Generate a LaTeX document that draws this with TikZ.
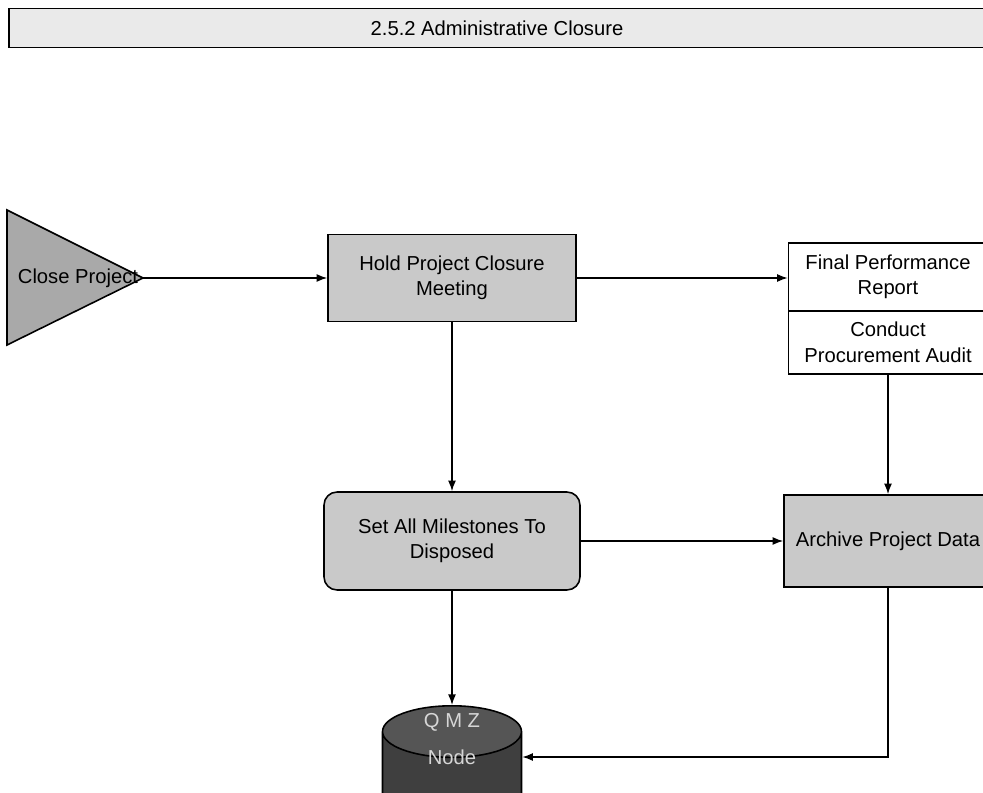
\documentclass[tikz,border=0pt]{standalone}
\usepackage{fontspec}
\setmainfont{Liberation Sans}
\usetikzlibrary{arrows.meta,positioning,shapes.geometric}

\definecolor{barfill}{HTML}{EAEAEA}
\definecolor{trifill}{HTML}{A9A9A9}
\definecolor{actfill}{HTML}{C9C9C9}
\definecolor{dbfill}{HTML}{3F3F3F}
\definecolor{dbtop}{HTML}{555555}
\definecolor{dbtext}{HTML}{D6D6D6}

\begin{document}
\begin{tikzpicture}[
  x=0.02cm, y=-0.02cm,
  font=\fontsize{11.5}{14.5}\selectfont,
  box/.style={draw, line width=0.9pt, align=center, inner sep=2pt},
  act/.style={box, fill=actfill},
  doc/.style={box, fill=white, minimum width=3.98cm},
  arr/.style={-{Latex[length=6pt,width=4.5pt]}, line width=0.8pt}
]
\useasboundingbox (0,0) rectangle (983,793);
\node[box, fill=barfill, minimum width=19.52cm, minimum height=0.78cm] (title) at (497,28) {2.5.2 Administrative Closure};

\coordinate (tip) at (143,278);
\draw[line width=0.9pt, fill=trifill] (7,210) -- (tip) -- (7,345) -- cycle;
\node (close) at (78,278) {Close Project};

\node[act, minimum width=4.96cm, minimum height=1.74cm] (hold) at (452,278) {Hold Project Closure\\Meeting};
\node[act, rounded corners=0.26cm, minimum width=5.12cm, minimum height=1.96cm] (set) at (452,541) {Set All Milestones To\\Disposed};
\node[doc, minimum height=1.36cm] (fin) at (888,277) {Final Performance\\Report};
\node[doc, minimum height=1.26cm, below=-0.9pt of fin] (aud) {Conduct\\Procurement Audit};
\node[act, minimum width=4.16cm, minimum height=1.84cm] (arch) at (888,541) {Archive Project Data};

\node[cylinder, shape border rotate=90, aspect=4.4, draw, line width=0.9pt,
  cylinder uses custom fill, cylinder body fill=dbfill, cylinder end fill=dbtop,
  minimum width=2.78cm, minimum height=3.1cm, anchor=north] (qmz) at (452,705) {};
\node[text=dbtext] (qmztop) at (452,722) {Q M Z};
\node[text=dbtext] (qmzlbl) at (452,757) {Node};

\draw[arr] (tip) -- (hold.west);
\draw[arr] (hold.east) -- (hold.east -| fin.west);
\draw[arr] (hold) -- (set);
\draw[arr] (set) -- (arch);
\draw[arr] (aud.south) -- (arch.north);
\draw[arr] (set.south) -- (qmz.north);
\draw[arr] (arch.south) |- (qmzlbl -| qmz.east);
\end{tikzpicture}
\end{document}
